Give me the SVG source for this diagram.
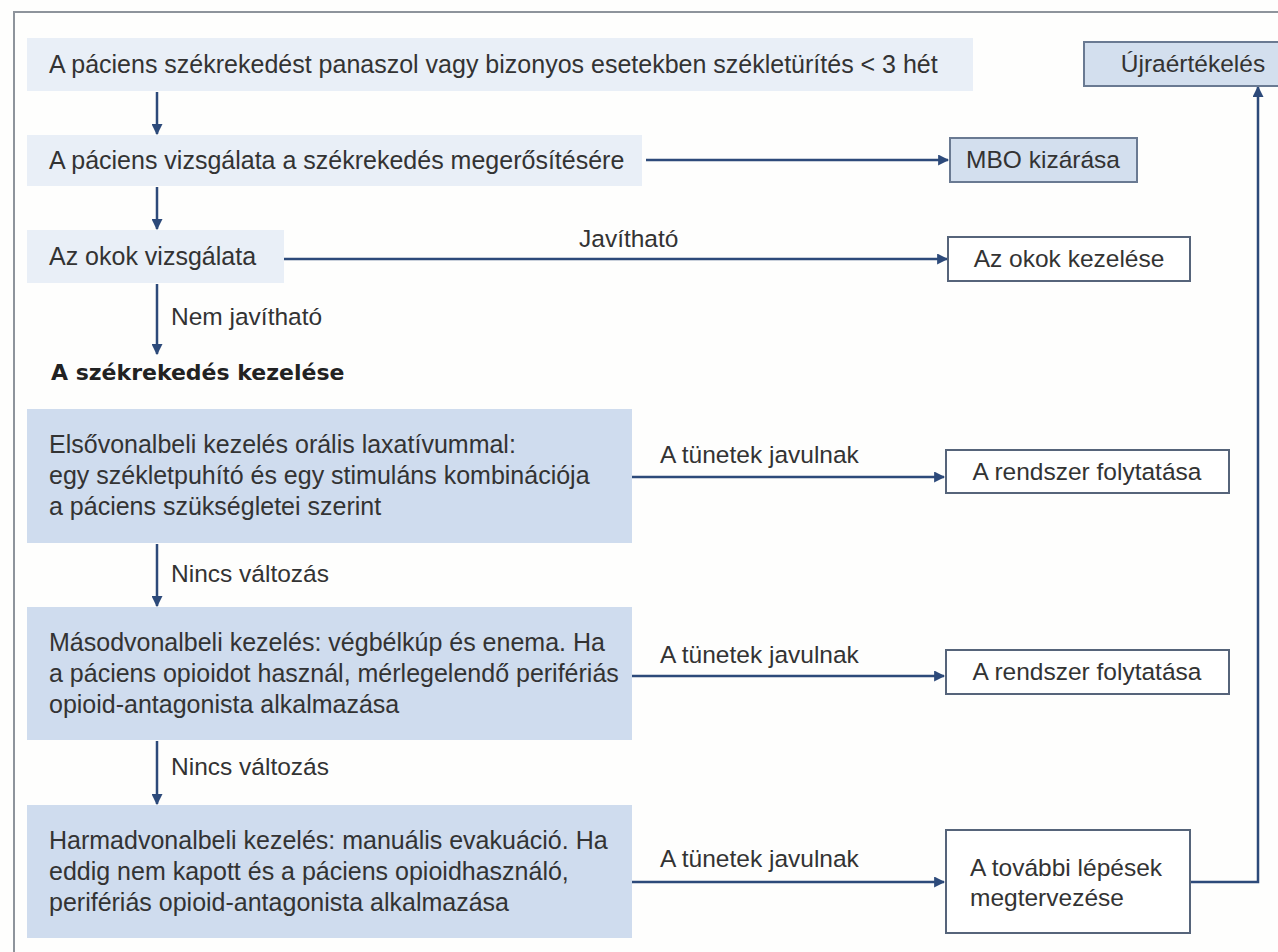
<svg xmlns="http://www.w3.org/2000/svg" width="1278" height="952" viewBox="0 0 1278 952">
<style>
text{font-family:"Liberation Sans",Arial,sans-serif;font-size:24.5px;fill:#333;}
.lt{font-size:25px;}
.bold{font-family:"DejaVu Sans",sans-serif;font-weight:bold;font-size:22px;fill:#222;}
.lite{fill:#e9eff7;}
.mid{fill:#cfdcee;}
.hl{fill:#d3dfee;stroke:#6a7a92;stroke-width:2;}
.wb{fill:#fff;stroke:#56647a;stroke-width:2;}
.c{stroke:#2d4a7a;stroke-width:2.5;fill:none;}
.mid-t{text-anchor:middle;}
</style>
<defs>
<marker id="ah" viewBox="0 0 10 10" refX="9" refY="5" markerWidth="4.6" markerHeight="4.4" markerUnits="strokeWidth" orient="auto">
<path d="M0,0 L10,5 L0,10 z" fill="#2d4a7a"/>
</marker>
</defs>
<rect width="1278" height="952" fill="#fefefd"/>
<path d="M14,952 V12 H1278" fill="none" stroke="#8e949c" stroke-width="2"/>

<g id="connectors">
<line class="c" x1="157" y1="92" x2="157" y2="134" marker-end="url(#ah)"/>
<line class="c" x1="157" y1="187" x2="157" y2="229" marker-end="url(#ah)"/>
<line class="c" x1="157" y1="284" x2="157" y2="354" marker-end="url(#ah)"/>
<line class="c" x1="157" y1="544" x2="157" y2="606" marker-end="url(#ah)"/>
<line class="c" x1="157" y1="741" x2="157" y2="804" marker-end="url(#ah)"/>
<line class="c" x1="646" y1="160" x2="948" y2="160" marker-end="url(#ah)"/>
<line class="c" x1="284" y1="259" x2="947" y2="259" marker-end="url(#ah)"/>
<line class="c" x1="632" y1="477" x2="944" y2="477" marker-end="url(#ah)"/>
<line class="c" x1="632" y1="676" x2="944" y2="676" marker-end="url(#ah)"/>
<line class="c" x1="632" y1="882" x2="944" y2="882" marker-end="url(#ah)"/>
<polyline class="c" points="1190,882 1258,882 1258,87" marker-end="url(#ah)"/>
<text x="171" y="325">Nem javítható</text>
<text x="579" y="247">Javítható</text>
<text x="171" y="582">Nincs változás</text>
<text x="171" y="775">Nincs változás</text>
<text x="660" y="463">A tünetek javulnak</text>
<text x="660" y="663">A tünetek javulnak</text>
<text x="660" y="867">A tünetek javulnak</text>
</g>

<g id="n1"><rect class="lite" x="27" y="38" width="946" height="53"/>
<text class="lt" x="49" y="73">A páciens székrekedést panaszol vagy bizonyos esetekben székletürítés &lt; 3 hét</text></g>
<g id="n2"><rect class="lite" x="27" y="135" width="615" height="51"/>
<text class="lt" x="49" y="169">A páciens vizsgálata a székrekedés megerősítésére</text></g>
<g id="n3"><rect class="lite" x="27" y="230" width="257" height="53"/>
<text class="lt" x="49" y="265">Az okok vizsgálata</text></g>
<g id="heading"><text class="bold" x="51" y="380">A székrekedés kezelése</text></g>
<g id="n4"><rect class="mid" x="27" y="409" width="605" height="134"/>
<text class="lt" x="49" y="453">Elsővonalbeli kezelés orális laxatívummal:</text>
<text class="lt" x="49" y="484">egy székletpuhító és egy stimuláns kombinációja</text>
<text class="lt" x="49" y="515">a páciens szükségletei szerint</text></g>
<g id="n5"><rect class="mid" x="27" y="607" width="605" height="133"/>
<text class="lt" x="49" y="651">Másodvonalbeli kezelés: végbélkúp és enema. Ha</text>
<text class="lt" x="49" y="682">a páciens opioidot használ, mérlegelendő perifériás</text>
<text class="lt" x="49" y="713">opioid-antagonista alkalmazása</text></g>
<g id="n6"><rect class="mid" x="27" y="805" width="605" height="133"/>
<text class="lt" x="49" y="849">Harmadvonalbeli kezelés: manuális evakuáció. Ha</text>
<text class="lt" x="49" y="880">eddig nem kapott és a páciens opioidhasználó,</text>
<text class="lt" x="49" y="911">perifériás opioid-antagonista alkalmazása</text></g>

<g id="mbo"><rect class="hl" x="950" y="138" width="187" height="44"/>
<text class="mid-t" x="1043" y="168">MBO kizárása</text></g>
<g id="ujra"><rect class="hl" x="1084" y="42" width="210" height="44"/>
<text class="mid-t" x="1193" y="72">Újraértékelés</text></g>
<g id="okok"><rect class="wb" x="948" y="237" width="242" height="44"/>
<text class="mid-t" x="1069" y="267">Az okok kezelése</text></g>
<g id="rend1"><rect class="wb" x="946" y="450" width="283" height="43"/>
<text class="mid-t" x="1087" y="480">A rendszer folytatása</text></g>
<g id="rend2"><rect class="wb" x="946" y="650" width="283" height="44"/>
<text class="mid-t" x="1087" y="680">A rendszer folytatása</text></g>
<g id="tovabbi"><rect class="wb" x="946" y="830" width="244" height="103"/>
<text x="970" y="876">A további lépések</text>
<text x="970" y="906">megtervezése</text></g>
</svg>
